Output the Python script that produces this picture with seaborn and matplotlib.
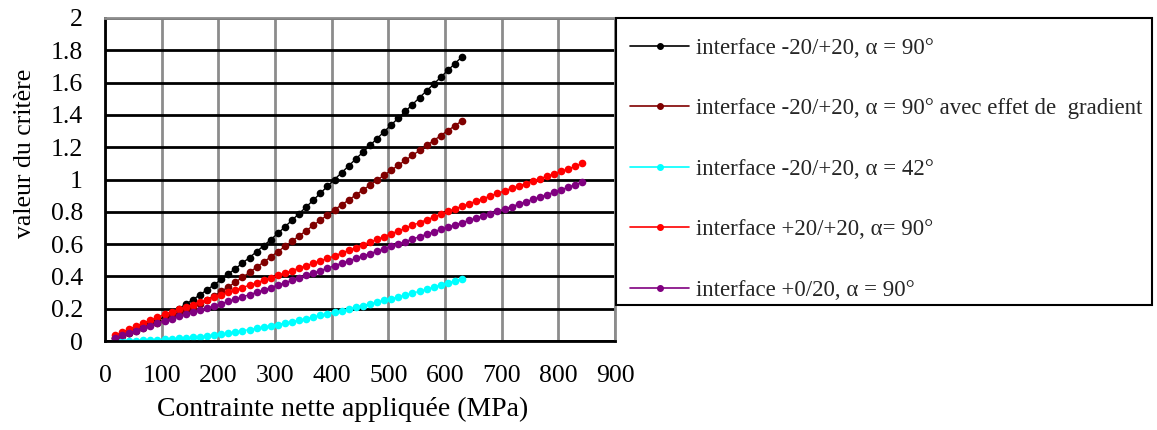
import matplotlib
matplotlib.use("Agg")
import matplotlib.pyplot as plt
from matplotlib.lines import Line2D
from matplotlib.patches import Rectangle
import seaborn as sns
import pandas as pd

# applied net stress (MPa), shared grid of the curves
stress = [17.5, 30, 42.5, 55, 67.5, 80, 92.5, 105, 117.5, 130, 142.5, 155, 167.5, 180,
          192.5, 205, 217.5, 230, 242.5, 255, 267.5, 280, 292.5, 305, 317.5, 330, 342.5,
          355, 367.5, 380, 392.5, 405, 417.5, 430, 442.5, 455, 467.5, 480, 492.5, 505,
          517.5, 530, 542.5, 555, 567.5, 580, 592.5, 605, 617.5, 630, 642.5, 655, 667.5,
          680, 692.5, 705, 717.5, 730, 742.5, 755, 767.5, 780, 792.5, 805, 817.5, 830, 842.5]

crit_m20_90 = [0.020, 0.035, 0.050, 0.066, 0.084, 0.104, 0.126, 0.150, 0.175, 0.200,
               0.228, 0.256, 0.286, 0.317, 0.348, 0.381, 0.414, 0.448, 0.482, 0.517,
               0.553, 0.590, 0.628, 0.666, 0.707, 0.748, 0.789, 0.830, 0.872, 0.915,
               0.958, 1.000, 1.042, 1.084, 1.127, 1.169, 1.211, 1.253, 1.296, 1.338,
               1.380, 1.422, 1.464, 1.507, 1.549, 1.591, 1.633, 1.676, 1.718, 1.760]

crit_m20_90_grad = [0.020, 0.034, 0.049, 0.064, 0.080, 0.096, 0.112, 0.129, 0.147, 0.166,
                    0.186, 0.207, 0.230, 0.254, 0.280, 0.307, 0.335, 0.364, 0.394, 0.425,
                    0.457, 0.489, 0.521, 0.553, 0.586, 0.618, 0.651, 0.683, 0.716, 0.748,
                    0.780, 0.812, 0.843, 0.873, 0.904, 0.935, 0.965, 0.996, 1.027, 1.057,
                    1.088, 1.119, 1.149, 1.180, 1.211, 1.241, 1.272, 1.303, 1.333, 1.364]

crit_m20_42 = [0.000, 0.001, 0.002, 0.003, 0.005, 0.007, 0.009, 0.011, 0.013, 0.016,
               0.019, 0.022, 0.026, 0.031, 0.036, 0.042, 0.049, 0.056, 0.063, 0.071,
               0.078, 0.086, 0.094, 0.102, 0.111, 0.120, 0.129, 0.138, 0.148, 0.158,
               0.168, 0.178, 0.188, 0.198, 0.209, 0.219, 0.230, 0.240, 0.251, 0.262,
               0.273, 0.284, 0.296, 0.308, 0.320, 0.333, 0.346, 0.359, 0.372, 0.386]

crit_p20_90 = [0.035, 0.054, 0.073, 0.092, 0.111, 0.129, 0.147, 0.165, 0.181, 0.196,
               0.211, 0.226, 0.241, 0.256, 0.271, 0.286, 0.301, 0.316, 0.331, 0.346,
               0.361, 0.376, 0.391, 0.406, 0.421, 0.436, 0.451, 0.466, 0.481, 0.496,
               0.511, 0.527, 0.544, 0.561, 0.578, 0.595, 0.612, 0.629, 0.646, 0.664,
               0.681, 0.698, 0.716, 0.733, 0.750, 0.768, 0.785, 0.802, 0.818, 0.834,
               0.850, 0.866, 0.882, 0.898, 0.914, 0.930, 0.945, 0.960, 0.975, 0.990,
               1.005, 1.020, 1.035, 1.050, 1.066, 1.082, 1.100]

crit_p0_90 = [0.020, 0.035, 0.050, 0.065, 0.080, 0.095, 0.111, 0.126, 0.139, 0.152,
              0.165, 0.178, 0.191, 0.204, 0.217, 0.231, 0.245, 0.259, 0.273, 0.287,
              0.301, 0.316, 0.331, 0.346, 0.361, 0.376, 0.391, 0.406, 0.421, 0.436,
              0.451, 0.466, 0.481, 0.496, 0.511, 0.526, 0.541, 0.556, 0.571, 0.586,
              0.601, 0.616, 0.631, 0.646, 0.661, 0.676, 0.691, 0.705, 0.719, 0.733,
              0.747, 0.761, 0.775, 0.789, 0.803, 0.817, 0.832, 0.847, 0.862, 0.877,
              0.892, 0.907, 0.922, 0.937, 0.952, 0.968, 0.985]

labels = ["interface -20/+20, α = 90°",
          "interface -20/+20, α = 90° avec effet de  gradient",
          "interface -20/+20, α = 42°",
          "interface +20/+20, α= 90°",
          "interface +0/20, α = 90°"]
colors = ["black", "#800000", "#00FFFF", "#FF0000", "#800080"]
series = [crit_m20_90, crit_m20_90_grad, crit_m20_42, crit_p20_90, crit_p0_90]

frames = []
for lab, vals in zip(labels, series):
    frames.append(pd.DataFrame({"stress": stress[:len(vals)], "crit": vals, "serie": lab}))
df = pd.concat(frames, ignore_index=True)

sns.set_theme(style="white")
plt.rcParams["font.family"] = ["Liberation Serif", "DejaVu Serif"]

fig = plt.figure(figsize=(11.57, 4.30), dpi=100)
ax = fig.add_axes([105 / 1157, 89 / 430, 510 / 1157, 323 / 430])

sns.lineplot(data=df, x="stress", y="crit", hue="serie", hue_order=labels,
             palette=dict(zip(labels, colors)), marker="o", markersize=5.5,
             markeredgewidth=0, linewidth=1, sort=False, legend=False, ax=ax)

ax.set_xlim(0, 900)
ax.set_ylim(0, 2)
ax.set_xticks(range(0, 1000, 100))
ax.set_yticks([i * 0.2 for i in range(11)])
ax.set_yticklabels(["{:g}".format(round(i * 0.2, 1)) for i in range(11)])
ax.tick_params(axis="both", length=0, labelsize=18.5, colors="black")
ax.tick_params(axis="x", pad=17)
ax.tick_params(axis="y", pad=16)

ax.set_axisbelow(True)
ax.xaxis.grid(True, color="#8c8c8c", linewidth=2)
ax.yaxis.grid(True, color="black", linewidth=2)
for side in ["left", "bottom"]:
    ax.spines[side].set_color("black")
    ax.spines[side].set_linewidth(2)
for side in ["top", "right"]:
    ax.spines[side].set_color("#8c8c8c")
    ax.spines[side].set_linewidth(2)

ax.set_xlabel("Contrainte nette appliquée (MPa)", fontsize=20, color="black")
ax.set_ylabel("valeur du critère", fontsize=18.5, color="black")
ax.xaxis.set_label_coords(0.465, -0.172)
ax.yaxis.set_label_coords(-0.135, 0.58)

# legend box drawn separately so its borders match the reference
fig.patches.append(Rectangle((616 / 1157, 125 / 430), 536 / 1157, 287 / 430,
                             transform=fig.transFigure, facecolor="white",
                             edgecolor="black", linewidth=1.5, zorder=0))

handles = [Line2D([0], [0], color=c, lw=1.2, marker="o", markersize=4) for c in colors]
leg = fig.legend(handles, labels, loc="upper left",
                 bbox_to_anchor=(615 / 1157, 0.5, 537 / 1157, 407 / 430 - 0.5),
                 mode="expand", fontsize=16.5, frameon=False,
                 handlelength=2.6, handletextpad=0.3,
                 labelspacing=1.72, borderpad=0.65, borderaxespad=0)

fig.savefig("out.png", dpi=100)
